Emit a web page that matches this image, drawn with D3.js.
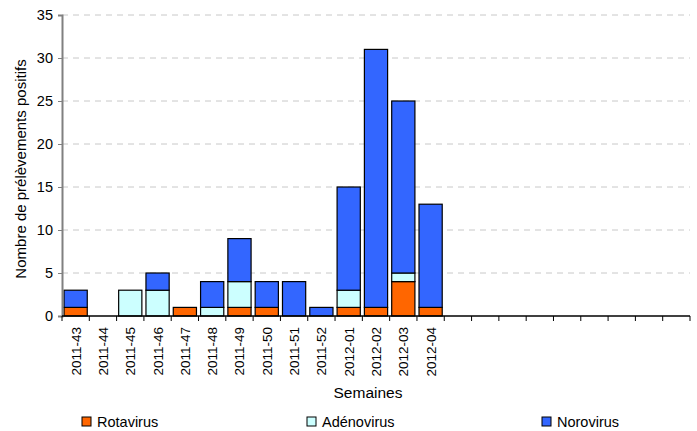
<!DOCTYPE html>
<html>
<head>
<meta charset="utf-8">
<script src="https://cdn.jsdelivr.net/npm/d3@7"></script>
<style>
  body { margin: 0; background: #fff; }
  svg { font-family: Arial, "Liberation Sans", sans-serif; }
</style>
</head>
<body>
<svg></svg>
<script>
'use strict';
// weeks (the axis keeps room for 9 empty weeks after 2012-04)
var weeks = ['2011-43', '2011-44', '2011-45', '2011-46', '2011-47', '2011-48', '2011-49',
    '2011-50', '2011-51', '2011-52', '2012-01', '2012-02', '2012-03', '2012-04',
    '', '', '', '', '', '', '', '', ''];
var rotavirus  = [1, 0, 0, 0, 1, 0, 1, 1, 0, 0, 1, 1, 4, 1];
var adenovirus = [0, 0, 3, 3, 0, 1, 3, 0, 0, 0, 2, 0, 1, 0];
var norovirus  = [2, 0, 0, 2, 0, 3, 5, 3, 4, 1, 12, 30, 20, 12];
var seriesNames = ['Rotavirus', 'Adénovirus', 'Norovirus'];
var seriesColors = ['#FF6600', '#CCFFFF', '#3366FF'];
var yTicks = [0, 5, 10, 15, 20, 25, 30, 35];

var canvasWidth = 697;
var canvasHeight = 431;
var margin = { top: 15, right: 7, bottom: 115, left: 62 };
var width = canvasWidth - margin.left - margin.right;
var height = canvasHeight - margin.top - margin.bottom;

var svg = d3.select('svg')
    .attr('width', canvasWidth)
    .attr('height', canvasHeight);
var graphArea = svg.append('g')
    .attr('transform', 'translate(' + margin.left + ',' + margin.top + ')');

var xScale = d3.scaleBand()
    .domain(d3.range(weeks.length))
    .range([0, width])
    .paddingInner(0.15)
    .paddingOuter(0.075);
var yScale = d3.scaleLinear()
    .domain([0, 35])
    .range([height, 0]);

// gridlines
graphArea.selectAll('line.grid')
    .data(yTicks.slice(1))
    .enter()
    .append('line')
    .attr('class', 'grid')
    .attr('x1', 0)
    .attr('x2', width)
    .attr('y1', function(d){ return yScale(d); })
    .attr('y2', function(d){ return yScale(d); })
    .attr('stroke', '#c8c8c8')
    .attr('stroke-width', 1)
    .attr('stroke-dasharray', '6,5');

// stacked data
var rows = rotavirus.map(function(r, i){
    return { i: i, Rotavirus: r, 'Adénovirus': adenovirus[i], Norovirus: norovirus[i] };
});
var stack = d3.stack().keys(seriesNames)(rows);

stack.forEach(function(layer, k){
    graphArea.append('g')
        .selectAll('rect')
        .data(layer.filter(function(d){ return d[1] > d[0]; }))
        .enter()
        .append('rect')
        .attr('x', function(d){ return xScale(d.data.i); })
        .attr('width', xScale.bandwidth())
        .attr('y', function(d){ return yScale(d[1]); })
        .attr('height', function(d){ return yScale(d[0]) - yScale(d[1]); })
        .attr('fill', seriesColors[k])
        .attr('stroke', '#000')
        .attr('stroke-width', 1.2);
});

// y axis
var yAxis = graphArea.append('g')
    .call(d3.axisLeft(yScale).tickValues(yTicks).tickSize(4).tickPadding(5));
yAxis.select('.domain').attr('stroke', '#808080').attr('stroke-width', 2);
yAxis.selectAll('.tick line').attr('stroke', '#808080');
yAxis.selectAll('text').attr('font-size', '14.5px').attr('fill', '#000')
    .style('font-family', 'Arial, "Liberation Sans", sans-serif');

// x axis: ticks between categories
var step = xScale.step();
var boundaries = d3.range(weeks.length + 1);
graphArea.append('line')
    .attr('x1', 0).attr('x2', width)
    .attr('y1', height).attr('y2', height)
    .attr('stroke', '#000').attr('stroke-width', 1.5);
graphArea.selectAll('line.xtick')
    .data(boundaries)
    .enter()
    .append('line')
    .attr('class', 'xtick')
    .attr('x1', function(d){ return d * step; })
    .attr('x2', function(d){ return d * step; })
    .attr('y1', height)
    .attr('y2', height + 5)
    .attr('stroke', '#000');

graphArea.selectAll('text.xlabel')
    .data(weeks)
    .enter()
    .append('text')
    .attr('class', 'xlabel')
    .attr('transform', function(d, i){
        var x = xScale(i) + xScale.bandwidth() / 2 + 5;
        return 'translate(' + x + ',' + (height + 11) + ') rotate(-90)';
    })
    .attr('text-anchor', 'end')
    .attr('font-size', '13.5px')
    .text(function(d){ return d; });

// axis titles
svg.append('text')
    .attr('x', 368)
    .attr('y', 398)
    .attr('text-anchor', 'middle')
    .attr('font-size', '15.5px')
    .text('Semaines');
svg.append('text')
    .attr('transform', 'translate(26,169) rotate(-90)')
    .attr('text-anchor', 'middle')
    .attr('font-size', '15px')
    .text('Nombre de prélèvements positifs');

// legend
var legendX = [82, 307, 542];
var legend = svg.selectAll('g.legend')
    .data(seriesNames)
    .enter()
    .append('g')
    .attr('class', 'legend')
    .attr('transform', function(d, i){ return 'translate(' + legendX[i] + ',417)'; });
legend.append('rect')
    .attr('width', 9).attr('height', 9)
    .attr('fill', function(d, i){ return seriesColors[i]; })
    .attr('stroke', '#000');
legend.append('text')
    .attr('x', 15)
    .attr('y', 10)
    .attr('font-size', '14.5px')
    .text(function(d){ return d; });
</script>
</body>
</html>
